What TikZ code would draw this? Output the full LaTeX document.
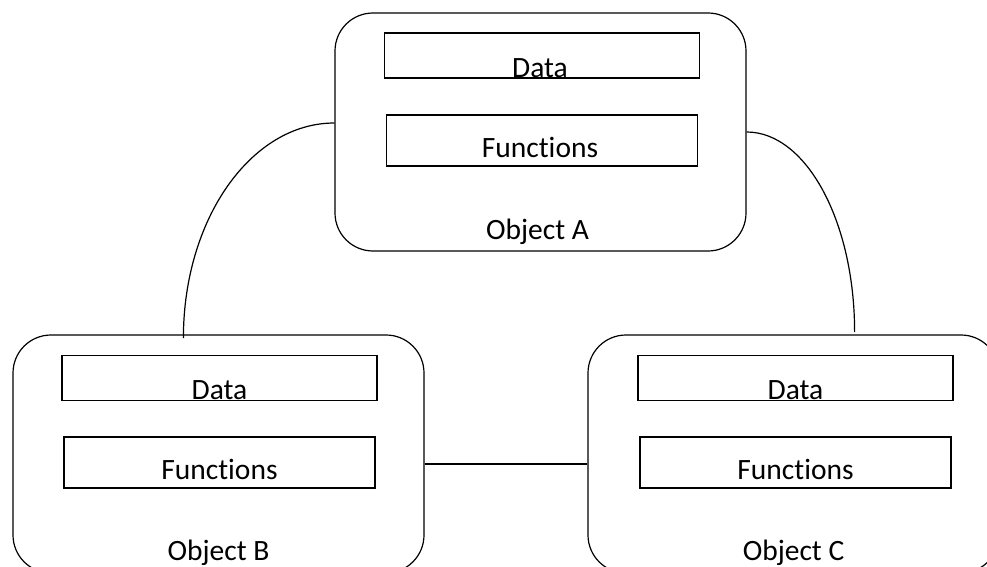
\documentclass[tikz,border=0pt]{standalone}
\usepackage{fontspec}
\setmainfont{Carlito}[Ligatures=NoCommon]
\begin{document}
\begin{tikzpicture}[x=1pt,y=-1pt,
	object/.style={draw, line width=1.2pt, rounded corners=38pt, minimum width=411pt, minimum height=238pt},
	databox/.style={draw, line width=1.2pt, minimum width=315pt, minimum height=45pt},
	funbox/.style={draw, line width=1.2pt, minimum width=311pt, minimum height=51pt},
	txt/.style={anchor=base, inner sep=0pt, font=\fontsize{29.5}{32}\selectfont}]
	\useasboundingbox (0,0) rectangle (987,567);
	\clip (0,0) rectangle (987,567);

	\node[object] (objA) at (540.5,132) {};
	\node[object] (objB) at (218.5,454) {};
	\node[object] (objC) at (793.5,454) {};

	\node[databox] (dataA) at (542,55.5) {};
	\node[funbox] (funA) at (542,140.5) {};
	\node[databox] (dataB) at (219.5,378) {};
	\node[funbox] (funB) at (219.5,462.5) {};
	\node[databox] (dataC) at (795.5,378) {};
	\node[funbox] (funC) at (795.5,462.5) {};

	\node[txt] at ([xshift=-2pt,yshift=1.5pt]dataA.south) {Data};
	\node[txt] at ([xshift=-2pt,yshift=9pt]funA.south) {Functions};
	\node[txt] at ([xshift=-3pt,yshift=12pt]objA.south) {Object A};
	\node[txt] at ([yshift=1.5pt]dataB.south) {Data};
	\node[txt] at ([yshift=9pt]funB.south) {Functions};
	\node[txt] at ([yshift=13pt]objB.south) {Object B};
	\node[txt] at ([yshift=1.5pt]dataC.south) {Data};
	\node[txt] at ([yshift=9pt]funC.south) {Functions};
	\node[txt] at ([yshift=13pt]objC.south) {Object C};

	% links between the objects
	\draw[line width=1.2pt] ([yshift=9pt]objA.west) arc[start angle=270, end angle=180, x radius=151, y radius=215];
	\draw[line width=1.2pt] (objA.east) arc[start angle=270, end angle=360, x radius=108, y radius=200];
	\draw[line width=1.2pt] ([yshift=-10pt]objB.east) -- ([yshift=-10pt]objC.west);
\end{tikzpicture}
\end{document}
